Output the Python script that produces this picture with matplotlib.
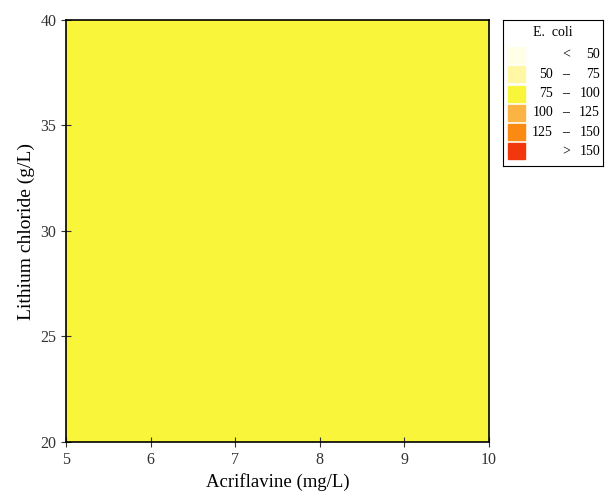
import numpy as np
import matplotlib.pyplot as plt
from matplotlib.patches import Rectangle

plt.rcParams['font.family'] = ['Liberation Serif', 'DejaVu Serif']

# Response surface grid (E. coli count), all values fall in the 75-100 band
acriflavine = [5.0, 7.5, 10.0]
lithium = [20.0, 30.0, 40.0]
ecoli = [[88, 89, 90],
         [87, 88, 89],
         [86, 87, 88]]

levels = [0, 50, 75, 100, 125, 150, 1000]
band_colors = ['#fffee6', '#fff7a3', '#f9f53a', '#fbb443', '#fb8a12', '#f0380c']
low_labels = ['', '50', '75', '100', '125', '']
mid_labels = ['<', '\u2013', '\u2013', '\u2013', '\u2013', '>']
high_labels = ['50', '75', '100', '125', '150', '150']

fig = plt.figure(figsize=(6.05, 4.94), dpi=100)
ax = fig.add_axes([66/605, 52/494, 423/605, 422/494])

X, Y = np.meshgrid(acriflavine, lithium)
Z = np.array(ecoli)
ax.contourf(X, Y, Z, levels=levels, colors=band_colors)

ax.set_xlim(5, 10)
ax.set_ylim(20, 40)
ax.set_xticks([5, 6, 7, 8, 9, 10])
ax.set_yticks([20, 25, 30, 35, 40])
ax.tick_params(direction='inout', length=7, labelsize=11.5, colors='#333333')
ax.set_xlabel('Acriflavine (mg/L)', fontsize=13.5)
ax.set_ylabel('Lithium chloride (g/L)', fontsize=14)
for s in ax.spines.values():
    s.set_linewidth(1.2)

# legend box
lax = fig.add_axes([503/605, (494-166)/494, 100/605, 146/494])
lax.set_xlim(0, 100)
lax.set_ylim(146, 0)
lax.set_xticks([])
lax.set_yticks([])
lax.text(50, 13, 'E.  coli', ha='center', va='center', fontsize=10)
for i, c in enumerate(band_colors):
    yc = 35 + i * 19.3
    lax.add_patch(Rectangle((5, yc - 8), 17, 16, color=c))
    lax.text(50, yc, low_labels[i], ha='right', va='center', fontsize=10)
    lax.text(63, yc, mid_labels[i], ha='center', va='center', fontsize=10)
    lax.text(97, yc, high_labels[i], ha='right', va='center', fontsize=10)

fig.savefig('out.png', dpi=100)
